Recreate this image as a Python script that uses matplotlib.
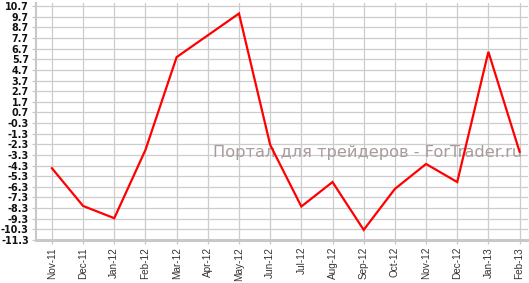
import matplotlib
matplotlib.use("Agg")
import matplotlib.pyplot as plt
import numpy as np

months = ["Nov-11", "Dec-11", "Jan-12", "Feb-12", "Mar-12", "Apr-12", "May-12", "Jun-12",
          "Jul-12", "Aug-12", "Sep-12", "Oct-12", "Nov-12", "Dec-12", "Jan-13", "Feb-13"]
values = [-4.55, -8.1, -9.25, -2.83, 5.9, 7.95, 10.0, -2.35,
          -8.15, -5.85, -10.35, -6.5, -4.15, -5.85, 6.4, -3.0]
y_ticks = np.arange(-11.3, 10.71, 1.0)

fig = plt.figure(figsize=(5.29, 2.83), dpi=100)
ax = fig.add_axes([0.0675, 0.152, 0.93, 0.837])

x = np.arange(len(months))
ax.plot(x, values, color="#ff0000", linewidth=1.6, zorder=3, solid_joinstyle="miter")

ax.set_xlim(-0.52, 15.26)
ax.set_ylim(-11.3, 10.98)
ax.set_xticks(x)
ax.set_xticklabels(months, rotation=90, fontsize=7.2, family="Liberation Sans", color="#333333")
ax.set_yticks(y_ticks)
ax.set_yticklabels([f"{v:.1f}" for v in y_ticks], fontsize=6.9, fontweight="bold", color="#111111")

ax.grid(True, color="#cccccc", linewidth=0.9)
ax.set_axisbelow(True)
for side in ("top", "right"):
    ax.spines[side].set_visible(False)
ax.spines["left"].set_color("#c8c8c8")
ax.spines["left"].set_linewidth(1.5)
ax.spines["bottom"].set_color("#c8c8c8")
ax.spines["bottom"].set_linewidth(2.2)
ax.tick_params(axis="both", length=3, width=0.9, color="#c8c8c8", pad=2)

ax.text(522 / 529, 1 - 152 / 283, "Портал для трейдеров - ForTrader.ru", transform=fig.transFigure,
        ha="right", va="center", fontsize=11.7, color="#a89c9c", zorder=2)

fig.savefig("out.png", dpi=100)
